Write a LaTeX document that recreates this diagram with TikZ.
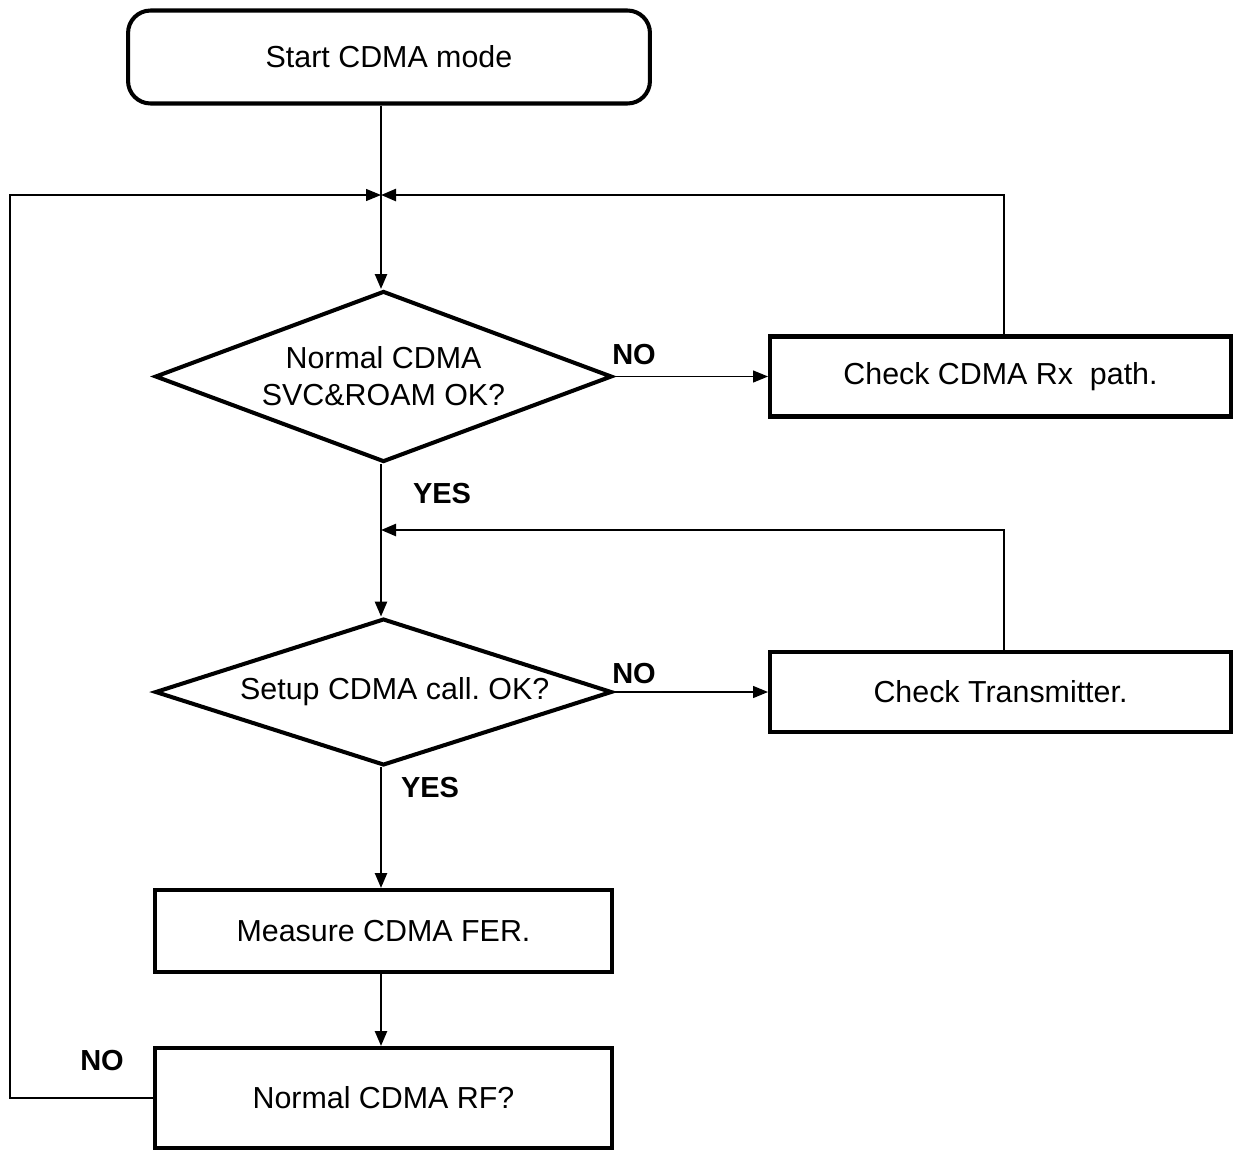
\documentclass[tikz,border=0pt]{standalone}
\usepackage{fontspec}
\setmainfont{Liberation Sans}
\usetikzlibrary{arrows.meta,shapes.geometric}
\frenchspacing

\tikzset{
  txt/.style={font=\fontsize{17.3}{21}\selectfont},
  lbl/.style={font=\fontsize{16.5}{19}\selectfont\bfseries},
  box/.style={txt, draw, line width=2.3pt, inner sep=0pt},
  decide/.style={txt, draw, diamond, aspect=2.8, line width=2.3pt, inner sep=0pt, align=center,
    minimum width=9.14cm, minimum height=3.42cm},
  flow/.style={line width=1.4pt, -{Triangle[length=0.3cm,width=0.24cm]}},
  thinflow/.style={line width=0.7pt, -{Triangle[length=0.3cm,width=0.24cm]}}
}

\begin{document}
\begin{tikzpicture}[x=0.02cm, y=-0.02cm]
		%%%%% START %%%%%
		\useasboundingbox (0, 0) rectangle (1233, 1150);
		
		\node[box, rounded corners=0.45cm, minimum width=10.44cm, minimum height=1.86cm] (start) at (389, 57) {Start CDMA mode};
		
		\node[decide] (svc) at (383.5, 376.5) {Normal CDMA\\SVC\&ROAM OK?};
		\node[box, minimum width=9.22cm, minimum height=1.6cm] (rx) at (1000.5, 376.5) {Check CDMA Rx\ \ path.};
		
		\node[decide, minimum height=2.9cm] (call) at (383.5, 692) {\hspace*{0.45cm}Setup CDMA call. OK?};
		\node[box, minimum width=9.22cm, minimum height=1.6cm] (tx) at (1000.5, 692) {Check Transmitter.};
		
		\node[box, minimum width=9.14cm, minimum height=1.64cm] (fer) at (383.5, 931) {Measure CDMA FER.};
		\node[box, minimum width=9.14cm, minimum height=2cm] (rf) at (383.5, 1098) {Normal CDMA RF?};
		
		\coordinate (top) at (381, 195);
		\coordinate (mid) at (381, 530);
		\coordinate (far) at (10, 195);
		
		% main line
		\draw[line width=1.4pt] (start.south -| top) -- (top);
		\draw[flow] (top) -- (svc.north -| top);
		\draw[flow] (svc.south -| top) -- (call.north -| top);
		\draw[flow] (call.south -| top) -- (fer.north -| top);
		\draw[flow] (fer.south -| top) -- (rf.north -| top);
		
		% NO branches
		\draw[thinflow] (svc.east) -- (rx.west);
		\draw[thinflow] (call.east) -- (tx.west);
		\draw[flow] (rx.north -| 1004, 0) |- (top);
		\draw[flow] (tx.north -| 1004, 0) |- (mid);
		\draw[thinflow] (rf.west) -| (far) -- (top);
		
		\node[lbl] (no1) at (634, 355) {NO};
		\node[lbl] (no2) at (634, 674) {NO};
		\node[lbl] (no3) at (102, 1060) {NO};
		\node[lbl] (yes1) at (442, 494) {YES};
		\node[lbl] (yes2) at (430, 788) {YES};
		%%%%% END %%%%%
	\end{tikzpicture}
\end{document}
